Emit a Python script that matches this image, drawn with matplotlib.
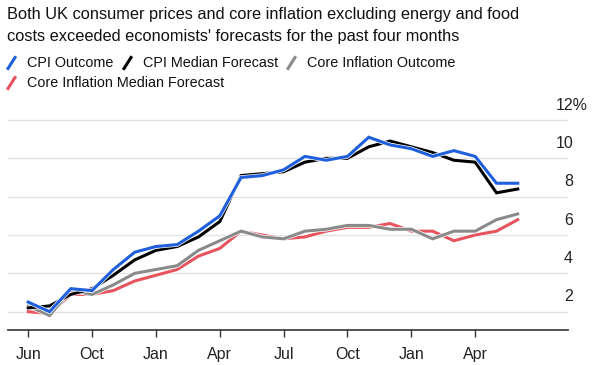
#!/usr/bin/env python3
"""
UK CPI and core inflation: outcomes vs median forecasts.

Output: out.png
"""

import matplotlib

matplotlib.use("Agg")

import matplotlib.pyplot as plt
import matplotlib.patheffects as pe
import matplotlib.transforms as mtransforms
import numpy as np
from matplotlib.lines import Line2D

# Monthly readings, Jun 2021 - May 2023 (%)
cpi_outcome = [2.5, 2.0, 3.2, 3.1, 4.2, 5.1, 5.4, 5.5, 6.2, 7.0, 9.0, 9.1,
               9.4, 10.1, 9.9, 10.1, 11.1, 10.7, 10.5, 10.1, 10.4, 10.1, 8.7, 8.7]
cpi_forecast = [2.2, 2.3, 2.9, 3.2, 3.9, 4.7, 5.2, 5.4, 5.9, 6.7, 9.1, 9.2,
                9.3, 9.8, 10.0, 10.0, 10.6, 10.9, 10.6, 10.3, 9.9, 9.8, 8.2, 8.4]
core_outcome = [2.3, 1.8, 3.1, 2.9, 3.4, 4.0, 4.2, 4.4, 5.2, 5.7, 6.2, 5.9,
                5.8, 6.2, 6.3, 6.5, 6.5, 6.3, 6.3, 5.8, 6.2, 6.2, 6.8, 7.1]
core_forecast = [2.0, 1.9, 2.9, 2.9, 3.1, 3.6, 3.9, 4.2, 4.9, 5.3, 6.2, 6.0,
                 5.8, 5.9, 6.2, 6.4, 6.4, 6.6, 6.2, 6.2, 5.7, 6.0, 6.2, 6.8]

tick_positions = [0, 3, 6, 9, 12, 15, 18, 21]
tick_labels = ["Jun", "Oct", "Jan", "Apr", "Jul", "Oct", "Jan", "Apr"]
y_levels = [2, 4, 6, 8, 10, 12]

series_names = ["CPI Outcome", "CPI Median Forecast",
                "Core Inflation Outcome", "Core Inflation Median Forecast"]

BLUE = "#1f5fdb"
BLACK = "#000000"
GRAY = "#8a8a8a"
RED = "#e8545e"

FONT = ["Liberation Sans", "DejaVu Sans"]


def px(fig, x, y):
    """Figure pixel (from top-left) -> figure fraction."""
    w, h = fig.get_size_inches() * fig.dpi
    return x / w, 1 - y / h


def plot_chart(output_path):
    plt.rcParams["font.family"] = FONT

    fig = plt.figure(figsize=(5.99, 3.65), dpi=100)
    ax = fig.add_axes([8 / 599, 35 / 365, 560 / 599, 229.2 / 365])

    x = np.arange(len(cpi_outcome))
    lw = 2.2
    stroke = [pe.withStroke(linewidth=lw + 1.0, foreground="white")]

    ax.plot(x, core_forecast, color=RED, lw=lw, path_effects=stroke, solid_joinstyle="miter")
    ax.plot(x, core_outcome, color=GRAY, lw=lw, path_effects=stroke, solid_joinstyle="miter")
    ax.plot(x, cpi_forecast, color=BLACK, lw=lw, path_effects=stroke, solid_joinstyle="miter")
    ax.plot(x, cpi_outcome, color=BLUE, lw=lw, path_effects=stroke, solid_joinstyle="miter")

    ax.set_xlim(-0.95, 25.36)
    ax.set_ylim(1.045, 13)

    # Horizontal gridlines
    for v in y_levels:
        ax.axhline(v, color="#e3e3e3", lw=1.0, zorder=0)

    # Y labels sit above their gridlines on the right
    trans = mtransforms.blended_transform_factory(ax.transAxes, ax.transData)
    for v in y_levels:
        if v == 12:
            ax.text(0.979, v + 0.78, "12%", transform=trans, ha="left",
                    va="center", fontsize=11.5, color="#222222")
        else:
            ax.text(1.009, v + 0.78, str(v), transform=trans, ha="right",
                    va="center", fontsize=11.5, color="#222222")
    ax.set_yticks([])

    ax.set_xticks(tick_positions)
    ax.set_xticklabels(tick_labels, fontsize=11.5, color="#222222")
    ax.tick_params(axis="x", length=5, width=1.0, color="#333333", pad=7)

    for side in ["top", "right", "left"]:
        ax.spines[side].set_visible(False)
    ax.spines["bottom"].set_color("#333333")
    ax.spines["bottom"].set_linewidth(1.2)

    # Title
    tx, ty = px(fig, 7, 14)
    fig.text(tx, ty, "Both UK consumer prices and core inflation excluding energy and food",
             fontsize=11.8, va="center", ha="left", color="#111111")
    tx, ty = px(fig, 7, 36)
    fig.text(tx, ty, "costs exceeded economists' forecasts for the past four months",
             fontsize=11.8, va="center", ha="left", color="#111111")

    # Legend with slanted strokes
    legend_items = [
        (series_names[0], BLUE, 8, 63),
        (series_names[1], BLACK, 124, 63),
        (series_names[2], GRAY, 288, 63),
        (series_names[3], RED, 8, 83),
    ]
    text_x = [27, 143, 307, 27]
    for (name, color, mx, my), tx_px in zip(legend_items, text_x):
        x0, y0 = px(fig, mx, my + 5.5)
        x1, y1 = px(fig, mx + 7, my - 5.5)
        fig.add_artist(Line2D([x0, x1], [y0, y1], color=color, lw=2.2,
                              transform=fig.transFigure))
        lx, ly = px(fig, tx_px, my)
        fig.text(lx, ly, name, fontsize=10.4, va="center", ha="left", color="#111111")

    fig.savefig(output_path, dpi=100)
    plt.close(fig)
    print(f"Saved: {output_path}")


def main():
    plot_chart("out.png")


if __name__ == "__main__":
    main()
